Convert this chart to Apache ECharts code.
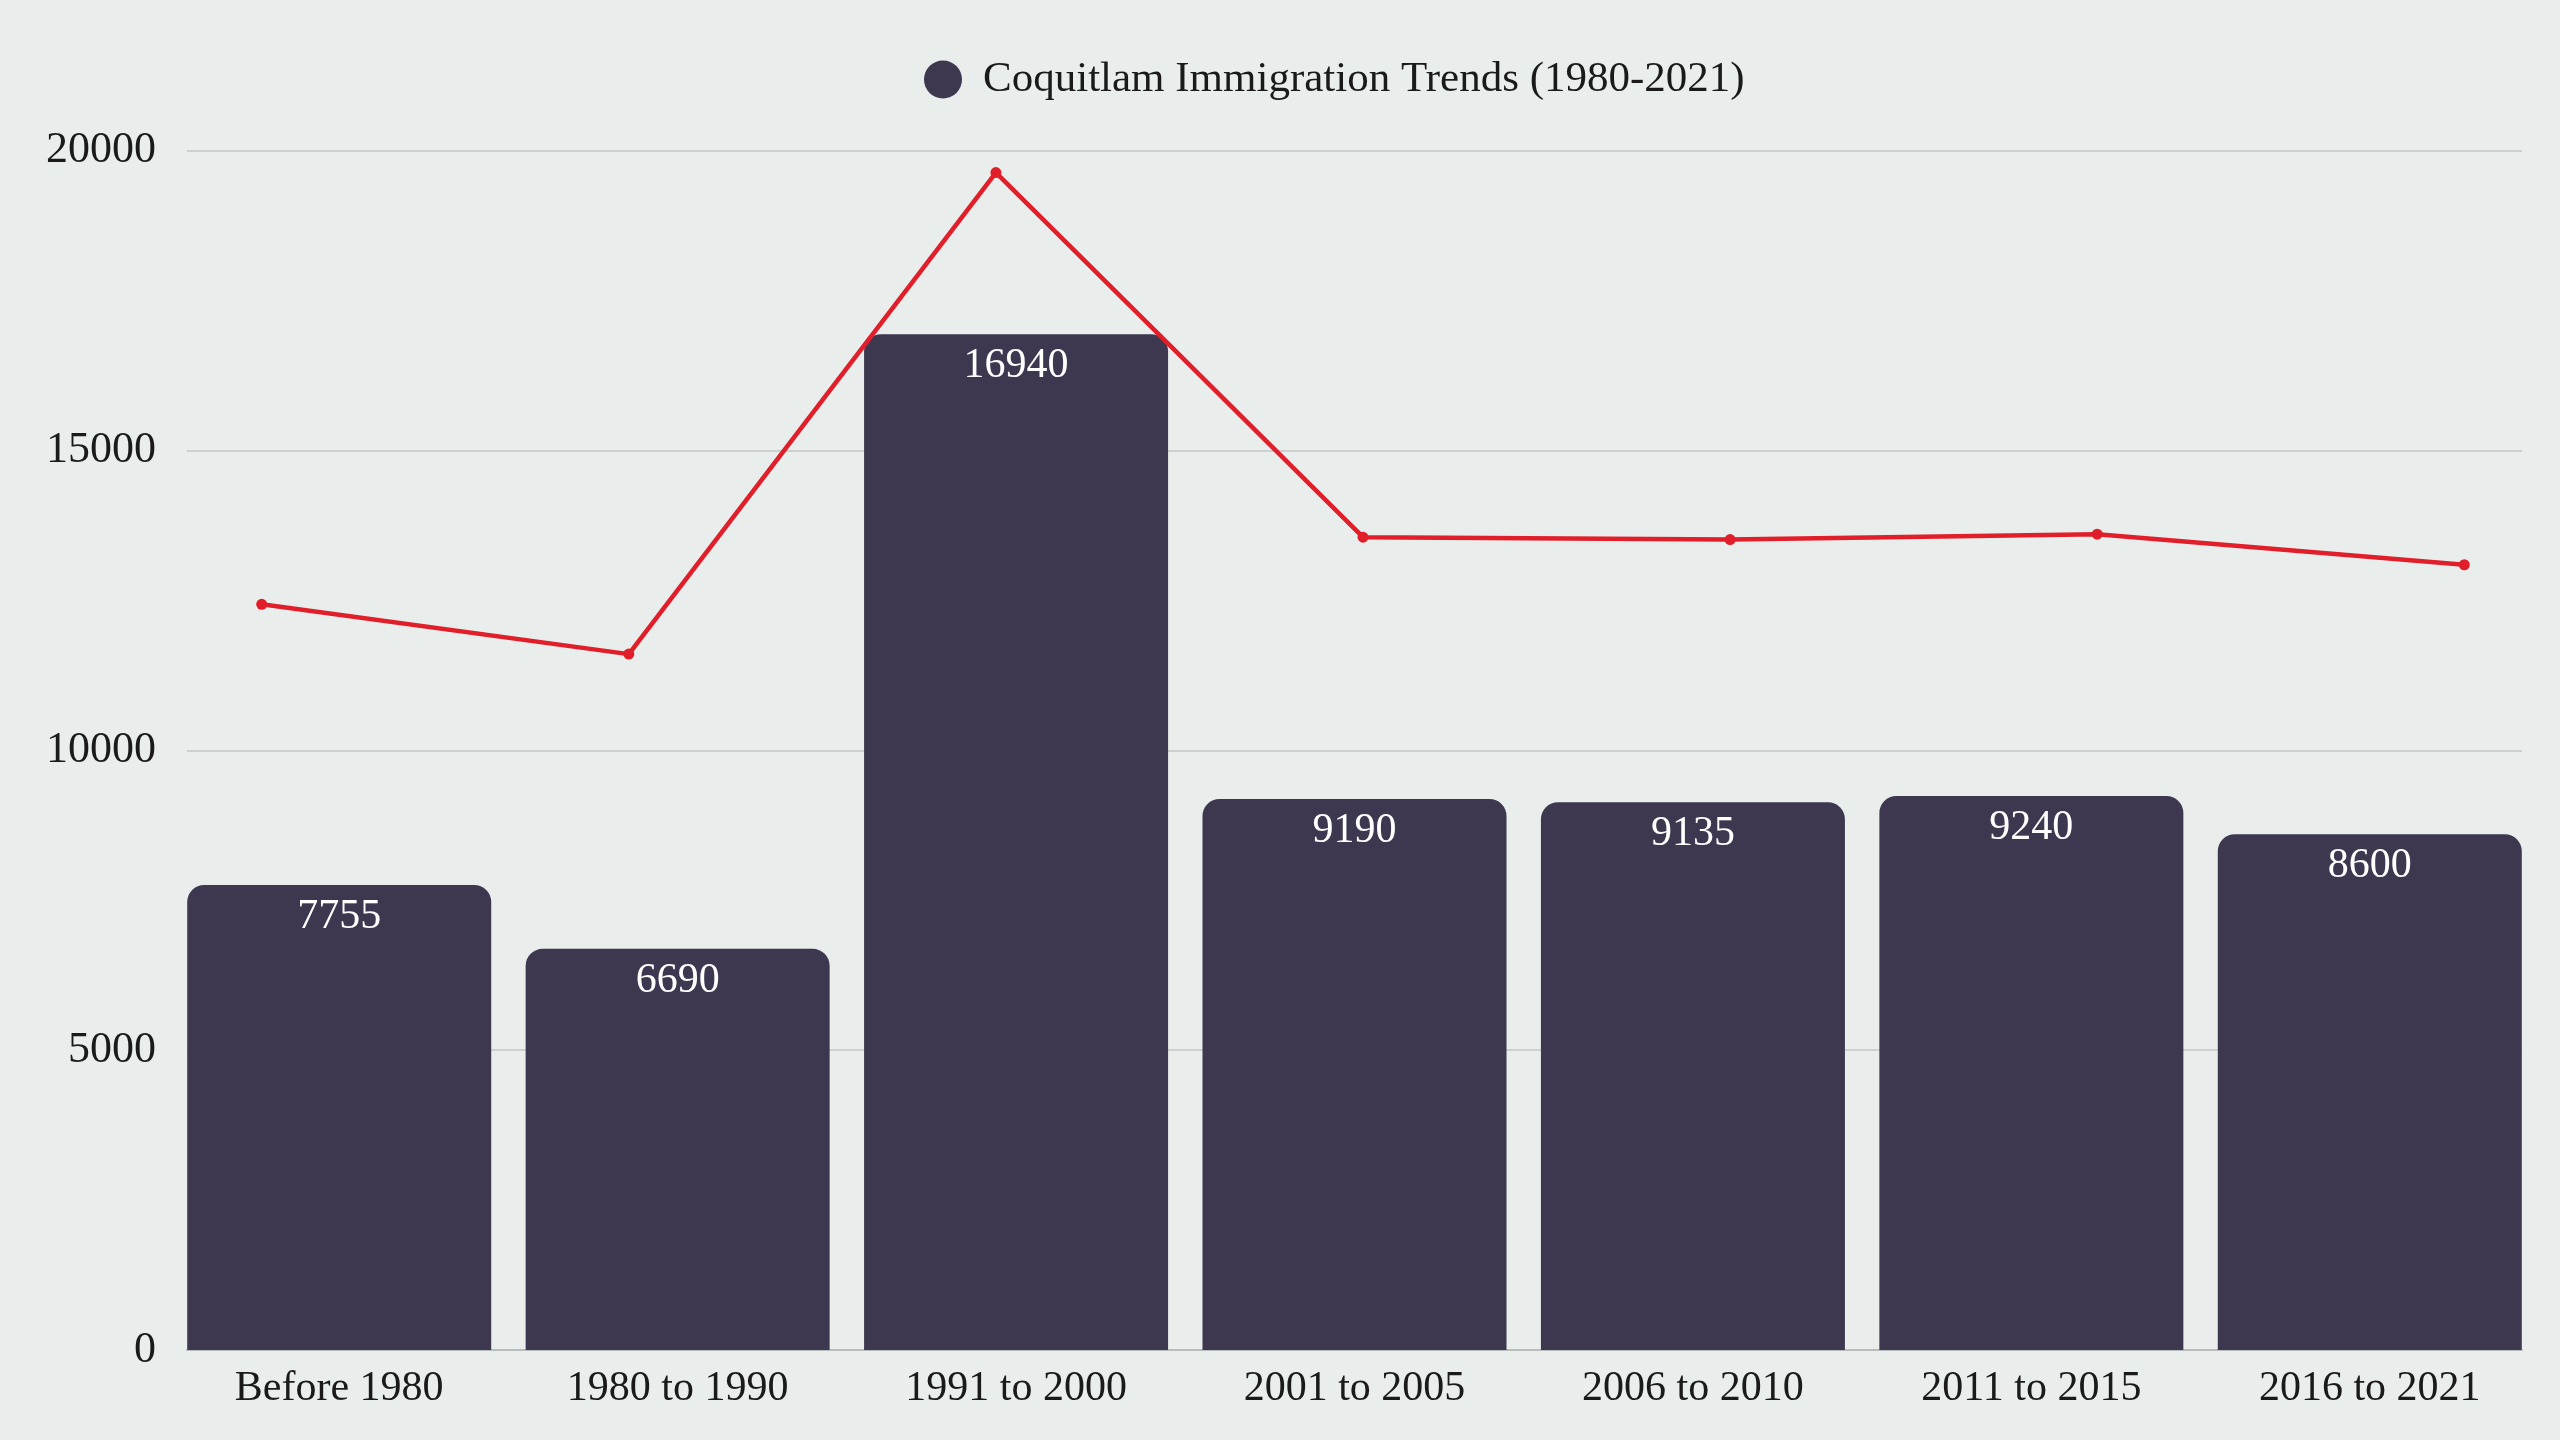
<!DOCTYPE html>
<html>
<head>
<meta charset="utf-8">
<script src="https://cdn.jsdelivr.net/npm/echarts@6/dist/echarts.min.js"></script>
<style>
html,body{margin:0;padding:0;background:#e9edec;}
#chart{width:2560px;height:1440px;}
</style>
</head>
<body>
<div id="chart"></div>
<script>
var categories = ['Before 1980', '1980 to 1990', '1991 to 2000', '2001 to 2005', '2006 to 2010', '2011 to 2015', '2016 to 2021'];
var barValues = [7755, 6690, 16940, 9190, 9135, 9240, 8600];
var lineValues = [12435, 11605, 19635, 13555, 13515, 13605, 13095];
var seriesName = 'Coquitlam Immigration Trends (1980-2021)';
var yMin = 0, yMax = 20000, yInterval = 5000;

var FONT = "'Liberation Serif', 'Times New Roman', serif";
var chart = echarts.init(document.getElementById('chart'));
chart.setOption({
  backgroundColor: '#e9edec',
  animation: false,
  textStyle: { fontFamily: FONT },
  legend: {
    data: [{ name: seriesName, icon: 'circle' }],
    left: 919, top: 53,
    itemWidth: 38, itemHeight: 38, itemGap: 10,
    textStyle: { fontFamily: FONT, fontSize: 43, color: '#1a1a1a', padding: [0, 0, 0, 16] }
  },
  grid: [
    { left: 170, right: 21, top: 150.7, bottom: 90 },
    { left: 187, right: 38, top: 150.7, bottom: 90 },
    { left: 261.7, right: 95.7, top: 150.7, bottom: 90 }
  ],
  xAxis: [
    { type: 'category', gridIndex: 0, data: categories,
      axisLine: { show: false }, axisTick: { show: false },
      axisLabel: { fontFamily: FONT, fontSize: 42, color: '#1a1a1a', margin: 18 } },
    { type: 'value', gridIndex: 1, min: 0, max: 1, show: true,
      axisLine: { show: true, lineStyle: { color: '#b9bcbc', width: 2 } },
      axisTick: { show: false }, axisLabel: { show: false }, splitLine: { show: false } },
    { type: 'category', gridIndex: 2, data: categories, boundaryGap: false, show: false }
  ],
  yAxis: [
    { type: 'value', gridIndex: 0, min: yMin, max: yMax, interval: yInterval, show: false, splitLine: { show: false } },
    { type: 'value', gridIndex: 1, min: yMin, max: yMax, interval: yInterval,
      axisLine: { show: false }, axisTick: { show: false },
      axisLabel: { fontFamily: FONT, fontSize: 44, color: '#1a1a1a', margin: 31,
        formatter: function (v) { return String(v); } },
      splitLine: { lineStyle: { color: '#cdd0d0', width: 2 } } },
    { type: 'value', gridIndex: 2, min: yMin, max: yMax, interval: yInterval, show: false, splitLine: { show: false } }
  ],
  series: [
    { name: seriesName, type: 'bar', xAxisIndex: 0, yAxisIndex: 0, data: barValues,
      barWidth: 304, z: 3,
      itemStyle: { color: '#3d3850', borderRadius: [17, 17, 0, 0] },
      label: { show: true, position: 'insideTop', distance: 11, color: '#ffffff', fontFamily: FONT, fontSize: 42 } },
    { name: 'Trend', type: 'line', xAxisIndex: 2, yAxisIndex: 2, data: lineValues, z: 4,
      symbol: 'circle', symbolSize: 11,
      lineStyle: { color: '#e01f2a', width: 4.5 },
      itemStyle: { color: '#e01f2a' } }
  ]
});
</script>
</body>
</html>
